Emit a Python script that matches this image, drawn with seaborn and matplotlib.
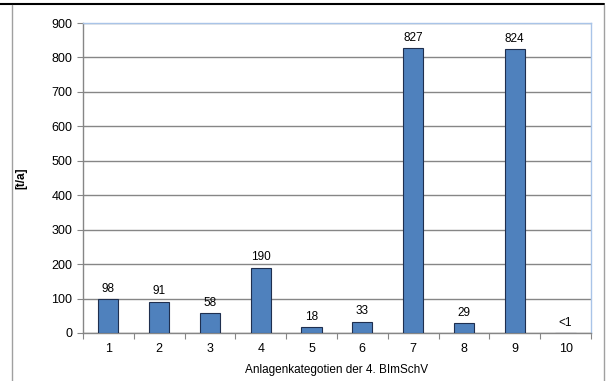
import matplotlib
matplotlib.use("Agg")
import matplotlib.pyplot as plt
from matplotlib.lines import Line2D
import numpy as np
import pandas as pd
import seaborn as sns

categories = ["1", "2", "3", "4", "5", "6", "7", "8", "9", "10"]
values = [98, 91, 58, 190, 18, 33, 827, 29, 824, 0.5]
value_labels = ["98", "91", "58", "190", "18", "33", "827", "29", "824", "<1"]
y_ticks = [0, 100, 200, 300, 400, 500, 600, 700, 800, 900]

sns.set_theme(style="white")
plt.rcParams["font.family"] = ["Liberation Sans", "DejaVu Sans"]

df = pd.DataFrame({"kategorie": categories, "wert": values})

fig = plt.figure(figsize=(6.14, 3.81), dpi=100)
ax = fig.add_axes([0.135, 0.126, 0.8275, 0.8136])

sns.barplot(data=df, x="kategorie", y="wert", color="#4F81BD", width=0.4,
            edgecolor="#1F2F4F", linewidth=0.8, saturation=1, ax=ax, zorder=3)

ax.set_ylim(0, 900)
ax.set_xlim(-0.5, len(categories) - 0.5)
ax.set_yticks(y_ticks)
ax.yaxis.grid(True, color="#868686", linewidth=1.0, zorder=0)
ax.set_axisbelow(True)

for i, (v, lab) in enumerate(zip(values, value_labels)):
    ax.annotate(lab, (i, v), xytext=(0, 3), textcoords="offset points",
                ha="center", va="bottom", fontsize=8.5, color="black")

# tick marks between categories like the original
ax.set_xticks(np.arange(-0.5, len(categories), 1.0), minor=True)
ax.tick_params(axis="x", which="major", length=0, labelsize=9, pad=7, colors="black")
ax.tick_params(axis="x", which="minor", length=4, width=0.8, color="#868686", bottom=True)
ax.tick_params(axis="y", which="major", length=4, width=0.8, color="#868686",
               left=True, labelsize=9, colors="black")

for side in ["left", "bottom"]:
    ax.spines[side].set_color("#868686")
    ax.spines[side].set_linewidth(1.0)
for side in ["top", "right"]:
    ax.spines[side].set_color("#A9C4E8")
    ax.spines[side].set_linewidth(1.0)

ax.set_xlabel("Anlagenkategotien der 4. BImSchV", fontsize=8.5, color="black", labelpad=7)
ax.set_ylabel("[t/a]", fontsize=8.5, fontweight="bold", color="black", labelpad=17)

# frame lines around the chart
fig.add_artist(Line2D([0, 0.984], [0.989, 0.989], transform=fig.transFigure,
                      color="black", linewidth=1.5))
fig.add_artist(Line2D([0.02, 0.02], [0, 0.987], transform=fig.transFigure,
                      color="#A0A0A0", linewidth=1.0))
fig.add_artist(Line2D([0.984, 0.984], [0, 0.987], transform=fig.transFigure,
                      color="#A0A0A0", linewidth=1.0))

fig.savefig("out.png", dpi=100)
